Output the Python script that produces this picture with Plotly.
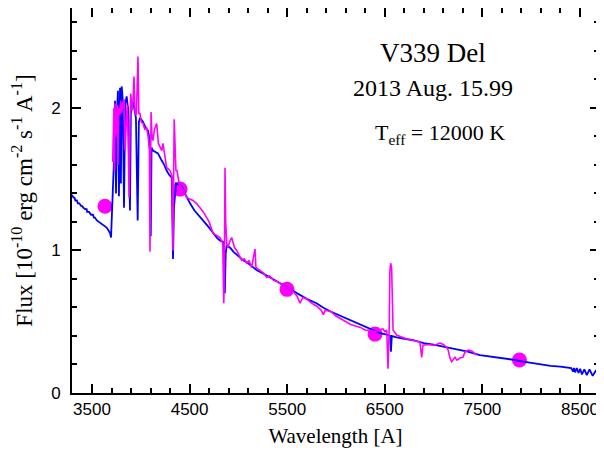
import plotly.graph_objects as go

# ── Model spectrum (Teff = 12000 K), blue ────────────────────────────────────
model_wl = [
    3295, 3310, 3320, 3330, 3345, 3355, 3370, 3390, 3400, 3410, 3430, 3445,
    3450, 3470, 3490, 3510, 3520, 3530, 3550, 3570, 3590, 3610, 3630, 3650,
    3670, 3685, 3695, 3702, 3712,
    3725, 3736, 3746, 3756, 3766, 3776, 3787, 3796, 3804, 3815, 3828, 3840,
    3855, 3870, 3889, 3898, 3906, 3920, 3935, 3950, 3968, 3980, 3992, 4023,
    4050, 4074, 4095, 4102, 4110, 4125, 4150, 4176, 4214, 4240, 4265, 4290,
    4317, 4330, 4340, 4361, 4390, 4419, 4460, 4504, 4550, 4607, 4650, 4700,
    4740, 4778, 4810, 4842, 4852, 4861, 4870, 4880, 4914, 4950, 5000, 5050,
    5100, 5190, 5300, 5400, 5498, 5600, 5700, 5800, 5867, 5950, 6050, 6143,
    6250, 6350, 6451, 6520, 6555, 6563, 6572, 6620, 6700, 6789, 6900, 7000,
    7137, 7250, 7350, 7475, 7600, 7700, 7800, 7885, 8000, 8100, 8200, 8300,
    8367, 8410, 8430, 8438, 8450, 8467, 8485, 8502, 8520, 8545, 8570, 8598,
    8630, 8665, 8680, 8695,
]
model_flux = [
    1.39, 1.37, 1.37, 1.35, 1.35, 1.33, 1.33, 1.31, 1.31, 1.30, 1.29, 1.29,
    1.27, 1.27, 1.25, 1.25, 1.23, 1.23, 1.21, 1.20, 1.19, 1.18, 1.17, 1.16,
    1.14, 1.12, 1.09, 1.23, 1.44,
    1.63, 2.05, 1.40, 1.98, 2.12, 1.38, 2.14, 1.47, 2.15, 2.06, 1.30, 2.03,
    2.08, 1.99, 1.28, 1.97, 2.00, 2.04, 1.99, 1.93, 1.21, 1.90, 1.93, 1.90,
    1.86, 1.84, 1.76, 1.10, 1.72, 1.70, 1.69, 1.68, 1.63, 1.60, 1.56, 1.53,
    1.51, 0.94, 1.30, 1.47, 1.46, 1.45, 1.39, 1.33, 1.28, 1.23, 1.20, 1.16,
    1.12, 1.09, 1.07, 1.06, 1.00, 0.70, 0.98, 1.03, 1.02, 0.99, 0.96, 0.93,
    0.91, 0.86, 0.82, 0.78, 0.74, 0.70, 0.66, 0.63, 0.60, 0.57, 0.54, 0.51,
    0.48, 0.45, 0.42, 0.41, 0.40, 0.29, 0.40, 0.39, 0.38, 0.37, 0.35, 0.34,
    0.32, 0.305, 0.29, 0.265, 0.255, 0.245, 0.235, 0.224, 0.21, 0.20, 0.19,
    0.185, 0.18, 0.175, 0.15, 0.175, 0.145, 0.175, 0.14, 0.17, 0.13, 0.165,
    0.125, 0.165, 0.12, 0.16, 0.125, 0.16, 0.15,
]

# ── Observed spectrum, magenta ───────────────────────────────────────────────
obs_wl = [
    3712, 3718, 3724, 3730, 3736, 3742, 3750, 3758, 3766, 3775, 3785, 3795,
    3804, 3815, 3828, 3838, 3850, 3860, 3870, 3880, 3890, 3897, 3910, 3920,
    3930, 3941, 3955, 3962, 3971, 3980, 3992, 4005, 4023, 4040, 4060, 4075,
    4088, 4094, 4100, 4105, 4115, 4125, 4140, 4163, 4180, 4197, 4215, 4227,
    4245, 4265, 4285, 4299, 4320, 4330, 4342, 4352, 4360, 4371, 4395, 4419,
    4440, 4470, 4504, 4535, 4570, 4607, 4640, 4675, 4700, 4740, 4780, 4811,
    4840, 4850, 4856, 4863, 4870, 4880, 4893, 4910, 4931, 4960, 4983, 5010,
    5034, 5060, 5085, 5110, 5135, 5170, 5180, 5221, 5260, 5290, 5320, 5360,
    5400, 5450, 5500, 5550, 5600, 5631, 5660, 5700, 5750, 5800, 5850, 5870,
    5890, 5950, 6000, 6050, 6100, 6150, 6200, 6250, 6300, 6350, 6400, 6450,
    6480, 6500, 6520, 6533, 6545, 6552, 6560, 6570, 6578, 6585, 6625, 6673,
    6720, 6789, 6830, 6860, 6878, 6891, 6940, 6994, 7030, 7066, 7100, 7134,
    7150, 7168, 7185, 7200, 7219, 7240, 7270, 7300, 7322, 7350, 7373, 7400,
    7424, 7442,
]
obs_flux = [
    1.62, 1.95, 2.00, 1.55, 2.03, 1.80, 1.87, 2.02, 1.60, 2.00, 1.95, 2.05,
    1.96, 2.03, 2.06, 1.70, 1.95, 2.02, 1.80, 1.37, 1.90, 2.10, 1.98, 2.05,
    2.22, 1.96, 1.95, 2.15, 2.36, 1.96, 1.96, 1.90, 1.89, 1.85, 1.86, 1.80,
    1.70, 0.99, 1.40, 1.97, 1.80, 1.77, 1.85, 1.89, 1.75, 1.72, 1.70, 1.75,
    1.65, 1.58, 1.57, 1.56, 1.52, 1.00, 1.92, 1.70, 1.56, 1.56, 1.46, 1.44,
    1.42, 1.37, 1.36, 1.35, 1.33, 1.30, 1.27, 1.23, 1.20, 1.12, 1.10, 1.09,
    1.05, 0.63, 0.80, 1.58, 1.20, 1.05, 1.02, 1.06, 1.09, 1.02, 1.00, 0.96,
    0.93, 0.94, 0.91, 0.93, 0.88, 1.01, 0.88, 0.86, 0.84, 0.81, 0.82, 0.79,
    0.78, 0.76, 0.74, 0.72, 0.68, 0.63, 0.67, 0.66, 0.63, 0.61, 0.58, 0.55,
    0.58, 0.57, 0.54, 0.52, 0.50, 0.48, 0.47, 0.46, 0.44, 0.44, 0.43, 0.44,
    0.45, 0.43, 0.44, 0.17, 0.45, 0.85, 0.91, 0.88, 0.60, 0.44, 0.405, 0.39,
    0.38, 0.37, 0.36, 0.357, 0.25, 0.335, 0.34, 0.335, 0.34, 0.35, 0.34, 0.32,
    0.30, 0.245, 0.22, 0.23, 0.25, 0.23, 0.245, 0.25, 0.287, 0.30, 0.30, 0.29,
    0.273, 0.266,
]

# ── Photometric points ───────────────────────────────────────────────────────
phot_wl = [3633, 4402, 5498, 6400, 7880]
phot_flux = [1.31, 1.43, 0.727, 0.413, 0.231]

SERIF = "Liberation Serif, Times New Roman, serif"
SANS = "Liberation Sans, Arial, sans-serif"

fig = go.Figure()
fig.add_trace(go.Scatter(
    x=phot_wl, y=phot_flux, mode="markers",
    marker=dict(size=15, color="#ff00ff"), hoverinfo="skip",
))
fig.add_trace(go.Scatter(
    x=model_wl, y=model_flux, mode="lines",
    line=dict(color="#0000ff", width=1.8),
))
fig.add_trace(go.Scatter(
    x=obs_wl, y=obs_flux, mode="lines",
    line=dict(color="#ff00ff", width=1.6),
))

axis_common = dict(
    showline=True, linecolor="black", linewidth=2, mirror="ticks",
    ticks="inside", ticklen=9, tickwidth=1.5, tickcolor="black",
    showgrid=False, zeroline=False, automargin=False,
    tickfont=dict(family=SANS, size=17, color="black"),
)

fig.update_xaxes(
    range=[3295, 8695], tick0=3500, dtick=1000,
    minor=dict(ticks="inside", ticklen=5, tickcolor="black", dtick=200, tick0=3500),
    title=dict(text="Wavelength [A]", font=dict(family=SERIF, size=21, color="black"),
               standoff=10),
    **axis_common,
)
fig.update_yaxes(
    range=[0, 2.7], tick0=0, dtick=1, ticklabelstandoff=6,
    minor=dict(ticks="inside", ticklen=5, tickcolor="black", dtick=0.2, tick0=0),
    title=dict(
        text="Flux [10<sup>-10</sup> erg cm<sup>-2</sup> s<sup>-1</sup> A<sup>-1</sup>]",
        font=dict(family=SERIF, size=23, color="black"), standoff=25,
    ),
    **axis_common,
)

ann = dict(xref="paper", yref="paper", showarrow=False, xanchor="center", yanchor="middle")
fig.add_annotation(x=0.685, y=0.883, text="V339 Del",
                   font=dict(family=SERIF, size=27, color="black"), **ann)
fig.add_annotation(x=0.685, y=0.793, text="2013 Aug. 15.99",
                   font=dict(family=SERIF, size=24, color="black"), **ann)
fig.add_annotation(x=0.698, y=0.672, text="T<sub>eff</sub> = 12000 K",
                   font=dict(family=SERIF, size=22, color="black"), **ann)

# the page body carries an 8px margin; the margins below absorb it
fig.update_layout(
    width=604, height=456,
    margin=dict(l=64, r=13, t=0, b=71),
    paper_bgcolor="white", plot_bgcolor="white",
    showlegend=False,
)

fig.write_html("out.html")
